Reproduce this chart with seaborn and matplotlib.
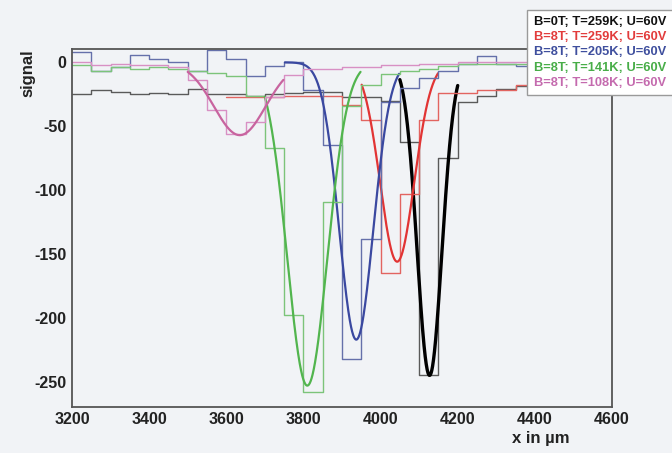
import numpy as np
import pandas as pd
import matplotlib
matplotlib.use("Agg")
import matplotlib.pyplot as plt
from matplotlib.patches import Rectangle
from matplotlib.ticker import MultipleLocator
import seaborn as sns

# ---- histogram data: 50 um bins from 3200 to 4600 ----
bin_low = list(range(3200, 4600, 50))
bin_width = 50

sig_b0_259 = [-25, -22, -23, -25, -24, -25, -21, -25, -25, -26, -25, -24,
              -23, -23, -27, -27, -30, -62, -245, -75, -31, -26, -21, -18.5,
              -17, -16, -15, -15]
sig_b8_259 = [np.nan] * 8 + [-27.5, -27.5, -27, -26,
              -26, -26, -33, -45, -165, -103, -45, -24, -24, -22, -22, -18,
              -16.5, -15, -14, -13]
sig_b8_205 = [8, -6.5, -3.5, 5.5, 3, 0, -7, 9.6, 3, -10.7, -2.6, 0,
              -22, -65, -232, -138, -31, -20, -12.5, -7, -1.3, 4.6, -1.3, -3,
              -3.5, -3.5, -3.5, -3.5]
sig_b8_141 = [-2, -7, -3.5, -5.5, -3.5, -5, -7, -8.5, -11, -26, -67, -198,
              -258, -109, -34, -18, -9, -7, -5, -3, -1, -1, -1, -1,
              -1, -1, -1, -1]
sig_b8_108 = [0, -2, -1, -2, -2, -3.4, -14, -37, -56, -47, -27, -10,
              -5.5, -5.5, -3.7, -3.7, -1.8, -1.8, -1.5, -1.5, 0, 0, 0, 0,
              0, 0, 0, 0]

labels = ["B=0T; T=259K; U=60V", "B=8T; T=259K; U=60V", "B=8T; T=205K; U=60V",
          "B=8T; T=141K; U=60V", "B=8T; T=108K; U=60V"]

# gaussian fit parameters (amplitude, mean, sigma) and drawn fit range
fit_amp = [-245, -156, -217, -253, -57]
fit_mean = [4127, 4043, 3937, 3810, 3635]
fit_sigma = [32, 44, 44, 52, 67]
fit_lo = [4050, 3951, 3752, 3700, 3500]
fit_hi = [4200, 4149, 4048, 3948, 3748]

hist_colors = ["#5a5a5a", "#e26460", "#6570aa", "#7cc47a", "#d890c4"]
fit_colors = ["#000000", "#e23434", "#3a48a0", "#52b54e", "#c8649f"]
text_colors = ["#111111", "#e23c3c", "#3f4f9e", "#48ad48", "#c46aae"]
fit_widths = [2.4, 1.6, 1.6, 1.6, 1.6]

series = [sig_b0_259, sig_b8_259, sig_b8_205, sig_b8_141, sig_b8_108]

bg = "#f1f3f6"
sns.set_theme(style="white")
plt.rcParams["font.family"] = ["Liberation Sans", "DejaVu Sans"]
plt.rcParams["axes.unicode_minus"] = False

fig = plt.figure(figsize=(6.72, 4.53), dpi=100, facecolor=bg)
ax = fig.add_axes([72 / 672, 1 - 406.7 / 453, 540 / 672, (406.7 - 49.3) / 453])
ax.set_facecolor(bg)

for vals, hc, fc, lw, lo, hi, a, m, s in zip(series, hist_colors, fit_colors,
                                              fit_widths, fit_lo, fit_hi,
                                              fit_amp, fit_mean, fit_sigma):
    edges = bin_low + [bin_low[-1] + bin_width]
    y = list(vals) + [vals[-1]]
    df = pd.DataFrame({"x": edges, "signal": y}).dropna()
    sns.lineplot(data=df, x="x", y="signal", drawstyle="steps-post",
                 color=hc, linewidth=1.0, ax=ax, sort=False)
    xf = np.linspace(lo, hi, 300)
    fit_df = pd.DataFrame({"x": xf, "signal": a * np.exp(-0.5 * ((xf - m) / s) ** 2)})
    sns.lineplot(data=fit_df, x="x", y="signal", color=fc, linewidth=lw,
                 ax=ax, sort=False)

ax.set_xlim(3200, 4600)
ax.set_ylim(-269.5, 10.2)

ax.xaxis.set_major_locator(MultipleLocator(200))
ax.xaxis.set_minor_locator(MultipleLocator(50))
ax.yaxis.set_major_locator(MultipleLocator(50))
ax.yaxis.set_minor_locator(MultipleLocator(10))
ax.tick_params(axis="both", which="both", direction="in", color="#555555",
               top=False, right=False)
ax.tick_params(axis="x", which="major", length=10, width=1.1, pad=4)
ax.tick_params(axis="x", which="minor", length=5, width=1.0)
ax.tick_params(axis="y", which="major", length=15, width=1.1, pad=4)
ax.tick_params(axis="y", which="minor", length=8, width=1.0)
for lab in ax.get_xticklabels() + ax.get_yticklabels():
    lab.set_fontweight("bold")
    lab.set_fontsize(11.5)
    lab.set_color("#222222")

for sp in ax.spines.values():
    sp.set_color("#555555")
    sp.set_linewidth(1.3)

ax.set_xlabel("")
ax.set_ylabel("")
fig.text(570 / 672, 1 - 438 / 453, "x in µm", ha="right", va="center",
         fontsize=12, fontweight="bold", color="#222222")
fig.text(28 / 672, 1 - 49 / 453, "signal", ha="center", va="top",
         rotation=90, fontsize=12, fontweight="bold", color="#222222")

# legend box in the upper right corner
fig.patches.append(Rectangle((527 / 672, 1 - 95 / 453), 150 / 672, 85 / 453,
                             transform=fig.transFigure, facecolor="white",
                             edgecolor="#9a9a9a", linewidth=1.0, zorder=5))
for i, (lab, tc) in enumerate(zip(labels, text_colors)):
    fig.text(534 / 672, 1 - (22 + 15.2 * i) / 453, lab, ha="left", va="center",
             fontsize=9.3, fontweight="bold", color=tc, zorder=6)

fig.savefig("out.png", dpi=100, facecolor=bg)
